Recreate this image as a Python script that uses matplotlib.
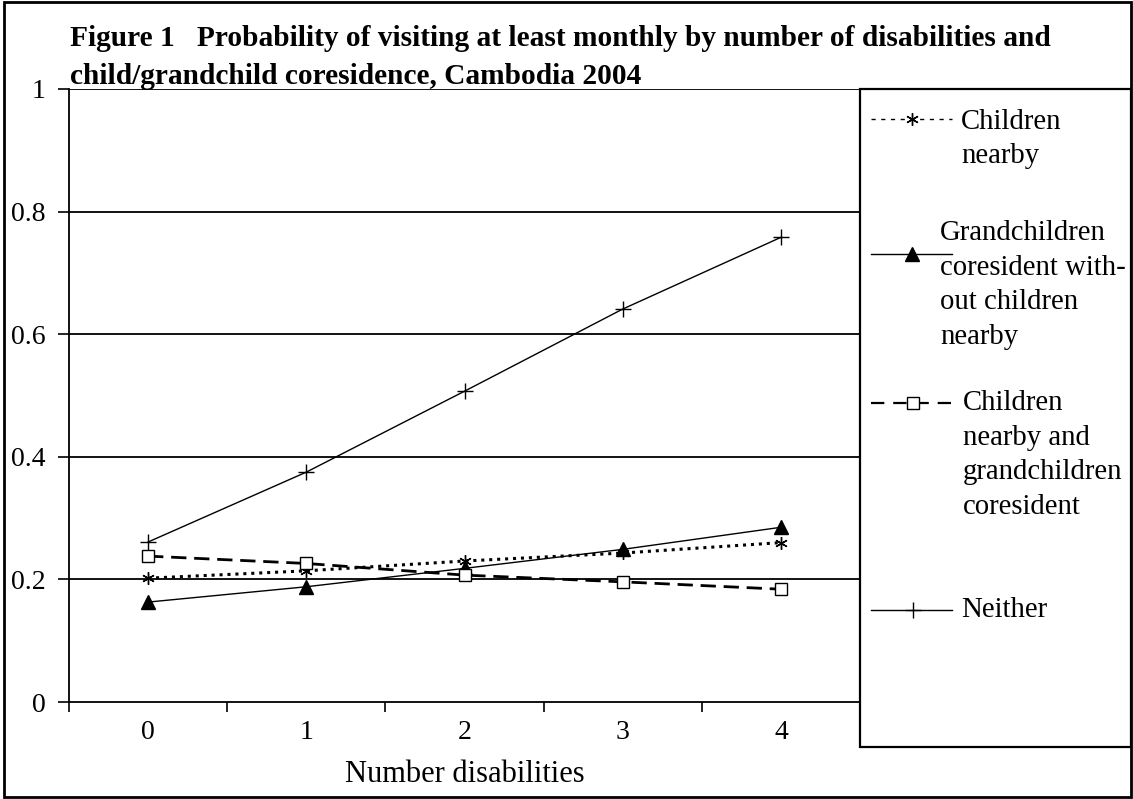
import matplotlib
matplotlib.use("Agg")
import matplotlib.pyplot as plt
from matplotlib.lines import Line2D
from matplotlib.patches import Rectangle

# Data
disabilities = [0, 1, 2, 3, 4]
children_nearby = [0.202, 0.214, 0.230, 0.243, 0.260]
grandchildren_only = [0.163, 0.188, 0.218, 0.249, 0.285]
children_and_grandchildren = [0.238, 0.226, 0.207, 0.196, 0.184]
neither = [0.261, 0.375, 0.507, 0.641, 0.758]

y_ticks = [0, 0.2, 0.4, 0.6, 0.8, 1.0]
y_tick_labels = ["0", "0.2", "0.4", "0.6", "0.8", "1"]

title_lines = ["Figure 1   Probability of visiting at least monthly by number of disabilities and",
               "child/grandchild coresidence, Cambodia 2004"]
legend_labels = ["Children\nnearby",
                 "Grandchildren\ncoresident with-\nout children\nnearby",
                 "Children\nnearby and\ngrandchildren\ncoresident",
                 "Neither"]

W, H = 1133, 799
plt.rcParams["font.family"] = ["Liberation Serif", "DejaVu Serif"]

fig = plt.figure(figsize=(W / 100, H / 100), dpi=100)


def fx(x):
    return x / W


def fy(y):
    return 1 - y / H


# plot area (pixel edges)
left, right, top, bottom = 69, 860, 89, 702
ax = fig.add_axes([fx(left), fy(bottom), fx(right) - fx(left), fy(top) - fy(bottom)])

asterisk = (6, 2, 0)
styles = [
    dict(color="black", lw=2.2, linestyle=(0, (1.0, 1.6)), marker=asterisk, ms=9, mew=1.0),
    dict(color="black", lw=1.0, linestyle="-", marker="^", ms=10, mfc="black", mec="black"),
    dict(color="black", lw=2.0, linestyle=(0, (5.5, 2.8)), marker="s", ms=8, mfc="white", mec="black", mew=1.0),
    dict(color="black", lw=1.0, linestyle="-", marker="+", ms=12, mew=1.0),
]
series = [children_nearby, grandchildren_only, children_and_grandchildren, neither]

for vals, st in zip(series, styles):
    ax.plot(disabilities, vals, zorder=3, clip_on=False, **st)

ax.set_xlim(-0.5, 4.5)
ax.set_ylim(0, 1)
ax.set_yticks(y_ticks)
ax.set_yticklabels(y_tick_labels)
for v in y_ticks[1:]:
    ax.axhline(v, color="black", lw=1.3, zorder=1)

# category boundaries as ticks, labels at category centres
ax.set_xticks([i - 0.5 for i in range(len(disabilities) + 1)])
ax.set_xticklabels([])
ax.set_xticks(disabilities, minor=True)
ax.set_xticklabels([str(d) for d in disabilities], minor=True)
ax.tick_params(axis="x", which="major", length=7, width=1.2, direction="out")
ax.tick_params(axis="x", which="minor", length=0, pad=13, labelsize=20)
ax.tick_params(axis="y", length=8, width=1.2, direction="out", pad=9, labelsize=20)

for s in ["top", "right"]:
    ax.spines[s].set_visible(False)
for s in ["left", "bottom"]:
    ax.spines[s].set_linewidth(1.3)

fig.text(fx((left + right) / 2), fy(782), "Number disabilities", fontsize=22,
         ha="center", va="baseline")

# title, one baseline per line
for line, base in zip(title_lines, [46, 84]):
    fig.text(fx(70), fy(base), line, fontsize=21.2, fontweight="bold", ha="left", va="baseline")

# legend box
fig.patches.append(Rectangle((fx(860), fy(747)), fx(1131) - fx(860), fy(89) - fy(747),
                             transform=fig.transFigure, fill=False, ec="black", lw=1.6))

# (handle y, marker x, text x, text centre y)
legend_items = [
    (119, 912, 961, 139),
    (254, 912, 940, 285),
    (403, 913, 963, 455),
    (610, 913, 961, 610),
]
legend_styles = [
    dict(color="black", lw=1.0, linestyle=(0, (3, 4))),
    dict(color="black", lw=1.0, linestyle="-"),
    dict(color="black", lw=1.6, linestyle=(0, (6, 4))),
    dict(color="black", lw=1.0, linestyle="-"),
]
for (yl, xm, xt, yt), st, lst, lab in zip(legend_items, styles, legend_styles, legend_labels):
    fig.add_artist(Line2D([fx(871), fx(952)], [fy(yl), fy(yl)], transform=fig.transFigure, **lst))
    mk = {k: v for k, v in st.items() if k in ("marker", "ms", "mfc", "mec", "mew")}
    fig.add_artist(Line2D([fx(xm)], [fy(yl)], transform=fig.transFigure, color="black",
                          linestyle="none", **mk))
    fig.text(fx(xt), fy(yt), lab, fontsize=20.7, ha="left", va="center", linespacing=1.42)

# outer frame
fig.patches.append(Rectangle((fx(4), fy(797)), fx(1131) - fx(4), fy(2) - fy(797),
                             transform=fig.transFigure, fill=False, ec="black", lw=2))

fig.savefig("out.png", dpi=100)
